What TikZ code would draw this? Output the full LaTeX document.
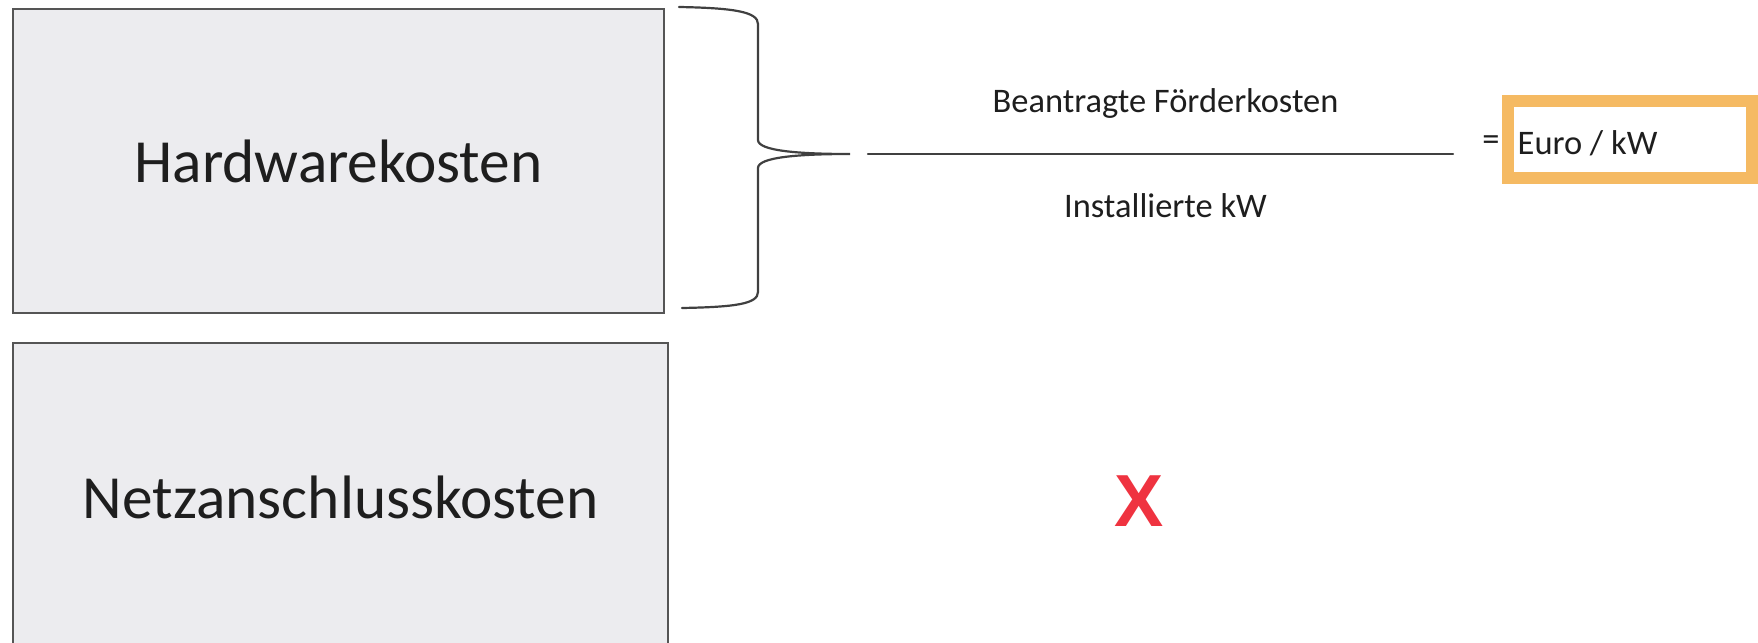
\documentclass[tikz,border=0pt]{standalone}
\usepackage{fontspec}
\setmainfont{Carlito}
\newfontfamily\crossfont{Liberation Sans}
\definecolor{boxfill}{HTML}{ECECEF}
\definecolor{boxline}{HTML}{555555}
\definecolor{inkc}{HTML}{1E1E1E}
\definecolor{orangeb}{HTML}{F5BA63}
\definecolor{crossred}{HTML}{EF3340}
\tikzset{
  costbox/.style={draw=boxline, line width=0.25mm, fill=boxfill, text=inkc,
    font=\fontsize{17.45}{20}\selectfont, inner sep=0pt},
  smalltext/.style={text=inkc, font=\fontsize{9.8}{12}\selectfont, inner sep=0pt},
  bracestyle/.style={draw=inkc!85, line width=0.22mm, line cap=round},
  resbox/.style={draw=orangeb, line width=1.2mm, fill=white, inner sep=0pt},
}
\begin{document}
\begin{tikzpicture}[x=0.1mm,y=-0.1mm]
\useasboundingbox (0,0) rectangle (1758,643);
\fill[white] (0,0) rectangle (1758,643);
\begin{scope}
\clip (0,0) rectangle (1758,643);
\node[costbox, minimum width=65.1mm, minimum height=30.4mm] (hw) at (338.5,161) {Hardwarekosten};
\node[costbox, minimum width=65.5mm, minimum height=30.8mm] (nz) at (340.5,497) {Netzanschlusskosten};
\end{scope}
% brace
\coordinate (btop) at (679,7);
\coordinate (bbot) at (682,308);
\coordinate (btip) at (850,154);
\draw[bracestyle] (btop) .. controls (735,8) and (758,12) .. (758,24) -- (758,140)
   .. controls (758,151) and (800,154) .. (btip)
   .. controls (800,154) and (758,157) .. (758,168) -- (758,292)
   .. controls (758,304) and (735,307) .. (bbot);
% fraction
\coordinate (fl) at (868,154);
\coordinate (fr) at (1453,154);
\draw[bracestyle] (fl) -- (fr);
\node[smalltext, anchor=base] (num) at (1165.5,112) {Beantragte Förderkosten};
\node[smalltext, anchor=base] (den) at (1165.5,217) {Installierte kW};
\node[smalltext] (eq) at (1491,143) {=};
\node[resbox, minimum width=24.4mm, minimum height=7.7mm] (res) at (1630,139.5) {};
\node[smalltext, anchor=base west] (euro) at (1517,154) {Euro / kW};
\node[text=crossred, font=\crossfont\bfseries\fontsize{21}{24}\selectfont, inner sep=0pt, anchor=base] (cross) at (1139,526) {X};
\end{tikzpicture}
\end{document}
